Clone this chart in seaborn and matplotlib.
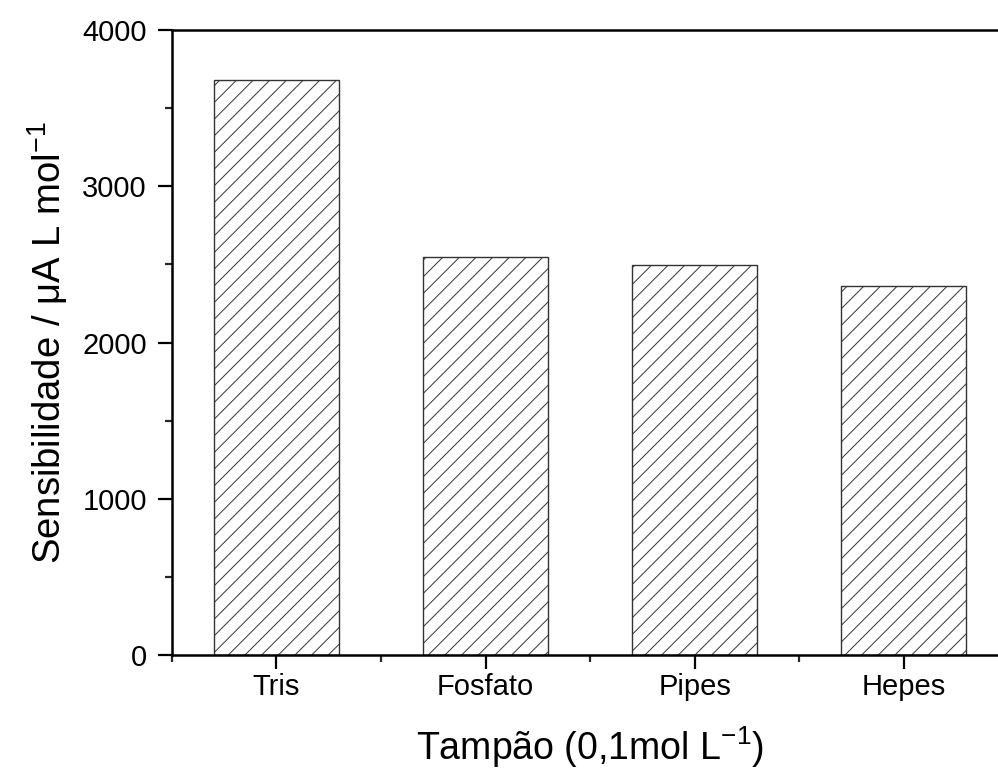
import matplotlib
matplotlib.use("Agg")
import matplotlib.pyplot as plt
import seaborn as sns
import pandas as pd
from matplotlib.ticker import MultipleLocator, FixedLocator

categories = ["Tris", "Fosfato", "Pipes", "Hepes"]
values = [3680, 2545, 2497, 2360]

sns.set_theme(style="ticks")
plt.rcParams['font.family'] = ['Liberation Sans', 'DejaVu Sans']
plt.rcParams['mathtext.fontset'] = 'custom'
plt.rcParams['mathtext.rm'] = 'Liberation Sans'
plt.rcParams['hatch.linewidth'] = 0.7
plt.rcParams['hatch.color'] = '#333333'
plt.rcParams['text.color'] = 'black'
plt.rcParams['axes.labelcolor'] = 'black'

df = pd.DataFrame({"cat": categories, "val": values})

fig = plt.figure(figsize=(9.98, 7.71), dpi=100)
ax = fig.add_axes([0.1723, 0.1505, 0.838, 0.8105])
sns.barplot(data=df, x="cat", y="val", ax=ax, color="white", width=0.6,
            edgecolor="#333333", linewidth=1.0, hatch="//", saturation=1)

ax.set_xlim(-0.5, 3.5)
ax.set_ylim(0, 4000)
ax.yaxis.set_major_locator(MultipleLocator(1000))
ax.yaxis.set_minor_locator(MultipleLocator(500))
ax.xaxis.set_minor_locator(FixedLocator([-0.5, 0.5, 1.5, 2.5, 3.5]))

for s in ax.spines.values():
    s.set_linewidth(1.8)
    s.set_color("black")
ax.spines['right'].set_visible(False)

ax.tick_params(axis='both', which='major', direction='out', length=10, width=1.6,
               labelsize=21, colors='black', pad=3)
ax.tick_params(axis='y', which='major', pad=8)
ax.tick_params(axis='both', which='minor', direction='out', length=5, width=1.6)

ax.set_xlabel("Tampão (0,1mol L$^{\\mathregular{-1}}$)", fontsize=27, labelpad=17)
ax.set_ylabel("Sensibilidade / $\\mathregular{\\mu}$A L mol$^{\\mathregular{-1}}$", fontsize=27.5, labelpad=9)

fig.savefig("out.png", dpi=100)
